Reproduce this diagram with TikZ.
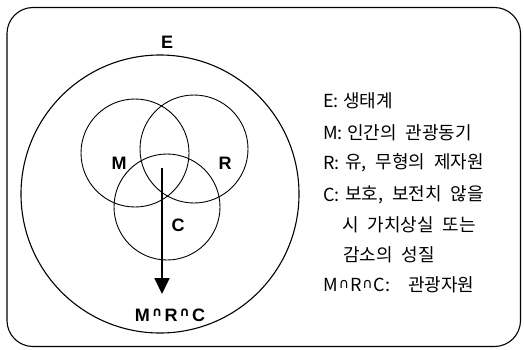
\documentclass[tikz,border=0pt]{standalone}
\usepackage{fontspec}
\usetikzlibrary{arrows.meta}
\newfontfamily\kr[WordSpace=2.2]{Noto Sans CJK KR}
\newfontfamily\lat{Liberation Sans}
\newfontfamily\djv{DejaVu Sans}
\newcommand{\mycap}{\hspace{2pt}\raisebox{0.45ex}{\djv\fontsize{13}{13}\selectfont ∩}\hspace{2pt}}
\newcommand{\mycapl}{\hspace{1pt}\raisebox{0.35ex}{\djv\fontsize{14}{14}\selectfont ∩}\hspace{1pt}}
\tikzset{
  venn/.style={draw, line width=0.9pt},
  bigl/.style={font=\lat\bfseries\fontsize{18}{18}\selectfont, inner sep=0pt},
  leg/.style={font=\kr\fontsize{18}{18}\selectfont, anchor=west, inner sep=0pt},
}
\begin{document}
\begin{tikzpicture}[x=1pt,y=-1pt]
\useasboundingbox (0,0) rectangle (524,349);
\draw[line width=1.1pt, rounded corners=26pt] (7,7.5) rectangle (520.5,346.5);
% big circle E
\draw[line width=1.1pt] (160,194) circle[radius=139];
\node[bigl] (E) at (167,42) {E};
% three circles
\draw[venn] (135,153) circle[radius=54];
\draw[venn] (194,149) circle[radius=54];
\draw[venn] (167,207) circle[radius=53];
\node[bigl] (M) at (119,163) {M};
\node[bigl] (R) at (225,163) {R};
\node[bigl] (C) at (178,225) {C};
% arrow
\coordinate (a1) at (162,168);
\coordinate (a2) at (162,294);
\draw[line width=1.8pt, -{Triangle[length=16pt,width=15pt]}] (a1) -- (a2);
\node[bigl] (mrc) at (170,315) {M\mycap R\mycap C};
% legend
\node[leg] (lE) at (323,101) {E:};
\node[leg] (tE) at (343,101) {생태계};
\node[leg] (lM) at (323,133) {M:};
\node[leg] (tM) at (347,133) {인간의 관광동기};
\node[leg] (lR) at (323,163) {R:};
\node[leg] (tR) at (345,163) {유, 무형의 제자원};
\node[leg] (lC) at (323,195) {C:};
\node[leg] (tC) at (345,195) {보호, 보전치 않을};
\node[leg] (tC2) at (342,225) {시 가치상실 또는};
\node[leg] (tC3) at (343,255) {감소의 성질};
\node[leg] (lMRC) at (323,285) {M\mycapl R\mycapl C:};
\node[leg] (tMRC) at (408,285) {관광자원};
\end{tikzpicture}
\end{document}
